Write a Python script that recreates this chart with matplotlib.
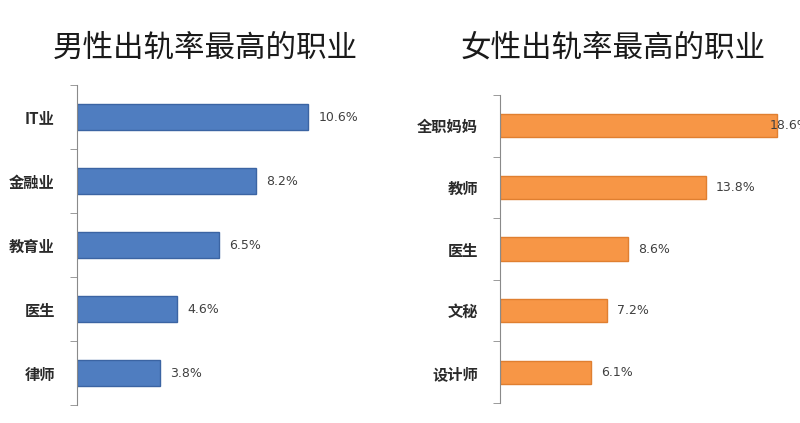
import matplotlib.pyplot as plt
import numpy as np

plt.rcParams['font.family'] = ['Noto Sans CJK SC', 'DejaVu Sans']

men_jobs = ["IT业", "金融业", "教育业", "医生", "律师"]
men_rates = [10.6, 8.2, 6.5, 4.6, 3.8]

women_jobs = ["全职妈妈", "教师", "医生", "文秘", "设计师"]
women_rates = [18.6, 13.8, 8.6, 7.2, 6.1]

W, H = 800, 423
fig = plt.figure(figsize=(W / 100, H / 100), dpi=100)


def panel(rect, jobs, rates, xmax, face, edge, bar_h, title, title_x, tight_first):
    ax = fig.add_axes(rect)
    y = np.arange(len(jobs))
    ax.barh(y, rates, height=bar_h, color=face, edgecolor=edge, linewidth=1)
    ax.set_xlim(0, xmax)
    ax.set_ylim(len(jobs) - 0.5, -0.5)
    ax.set_yticks(y)
    ax.set_yticklabels(jobs, fontsize=11, color="#2a2a2a", fontweight="bold")
    ax.set_yticks(np.arange(len(jobs) + 1) - 0.5, minor=True)
    ax.tick_params(axis="y", which="major", length=0, pad=16)
    ax.tick_params(axis="y", which="minor", length=5, color="#8a8a8a", direction="out")
    ax.set_xticks([])
    for s in ["top", "right", "bottom"]:
        ax.spines[s].set_visible(False)
    ax.spines["left"].set_color("#8a8a8a")
    for i, v in enumerate(rates):
        # the longest bar on the right runs into the picture edge, label sits on its end
        dx = -7 if (tight_first and i == 0) else 10
        ax.annotate(f"{v}%", (v, i), xytext=(dx, 0), textcoords="offset pixels",
                    ha="left", va="center", fontsize=9, color="#404040",
                    family="DejaVu Sans", annotation_clip=False)
    fig.text(title_x, 1 - 48 / H, title, ha="center", va="center",
             fontsize=22, color="#1a1a1a")
    return ax


panel([77 / W, 1 - 405 / H, 262 / W, 320 / H], men_jobs, men_rates, 12,
      "#4f7dc0", "#3b64a3", 0.4, "男性出轨率最高的职业", 205 / W, False)
panel([500 / W, 1 - 403 / H, 298 / W, 308 / H], women_jobs, women_rates, 20,
      "#f79646", "#e07f30", 0.375, "女性出轨率最高的职业", 613 / W, True)

fig.savefig("out.png", dpi=100, facecolor="white")
